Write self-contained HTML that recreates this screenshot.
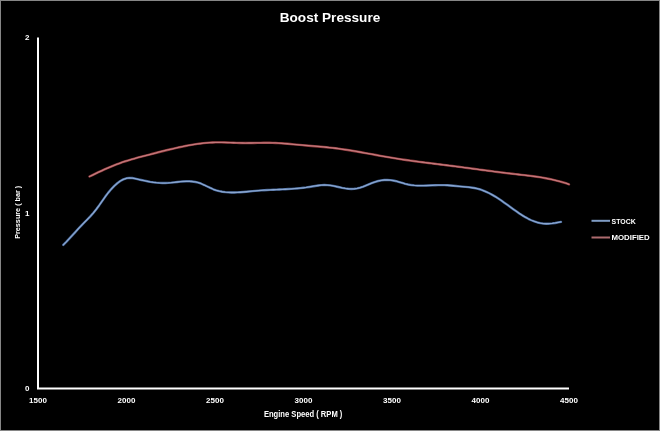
<!DOCTYPE html>
<html><head><meta charset="utf-8">
<style>
html,body{margin:0;padding:0;background:#000;}
body{width:660px;height:431px;overflow:hidden;}
svg{display:block;will-change:transform;}
text{font-family:"Liberation Sans",sans-serif;fill:#fff;}
</style></head>
<body>
<svg width="660" height="431" viewBox="0 0 660 431">
<rect x="0" y="0" width="660" height="431" fill="#000"/>
<rect x="0.5" y="0.5" width="659" height="430" fill="none" stroke="#868686" stroke-width="1"/>
<text x="330" y="21.8" font-size="13.4" font-weight="bold" text-anchor="middle" textLength="100.5" lengthAdjust="spacingAndGlyphs">Boost Pressure</text>
<rect x="37" y="37.5" width="2" height="351.5" fill="#fff"/>
<rect x="37" y="387.5" width="532" height="2" fill="#fff"/>
<g font-size="8" font-weight="bold" text-anchor="end">
<text x="29.5" y="40.3">2</text>
<text x="29.5" y="216">1</text>
<text x="29.5" y="391">0</text>
</g>
<g font-size="8" font-weight="bold" text-anchor="middle">
<text x="38" y="403.4">1500</text>
<text x="126.5" y="403.4">2000</text>
<text x="215" y="403.4">2500</text>
<text x="303.5" y="403.4">3000</text>
<text x="392" y="403.4">3500</text>
<text x="480.5" y="403.4">4000</text>
<text x="569" y="403.4">4500</text>
</g>
<text x="263.9" y="417" font-size="8.2" font-weight="bold" textLength="78.5" lengthAdjust="spacingAndGlyphs">Engine Speed ( RPM )</text>
<text transform="translate(20.1 238.8) rotate(-90)" x="0" y="0" font-size="7.7" font-weight="bold" textLength="53" lengthAdjust="spacingAndGlyphs">Pressure ( bar )</text>
<path d="M63.30 244.90 L66.30 241.86 L69.30 238.67 L72.30 235.39 L75.30 232.08 L78.30 228.79 L81.30 225.58 L84.30 222.50 L87.30 219.48 L90.30 216.35 L93.30 212.98 L96.30 209.25 L99.30 205.18 L102.30 200.87 L105.30 196.58 L108.30 192.63 L111.30 189.07 L114.30 185.94 L117.30 183.24 L120.30 181.02 L123.30 179.35 L126.30 178.28 L129.30 177.86 L132.30 178.05 L135.30 178.62 L138.30 179.32 L141.30 180.01 L144.30 180.66 L147.30 181.27 L150.30 181.82 L153.30 182.28 L156.30 182.65 L159.30 182.91 L162.30 183.04 L165.30 183.04 L168.30 182.89 L171.30 182.64 L174.30 182.32 L177.30 181.99 L180.30 181.68 L183.30 181.43 L186.30 181.30 L189.30 181.31 L192.30 181.52 L195.30 181.97 L198.30 182.69 L201.30 183.73 L204.30 185.04 L207.30 186.49 L210.30 187.94 L213.30 189.27 L216.30 190.34 L219.30 191.15 L222.30 191.74 L225.30 192.13 L228.30 192.37 L231.30 192.48 L234.30 192.48 L237.30 192.39 L240.30 192.23 L243.30 192.01 L246.30 191.75 L249.30 191.47 L252.30 191.18 L255.30 190.89 L258.30 190.64 L261.30 190.41 L264.30 190.22 L267.30 190.05 L270.30 189.90 L273.30 189.77 L276.30 189.64 L279.30 189.51 L282.30 189.38 L285.30 189.23 L288.30 189.07 L291.30 188.89 L294.30 188.67 L297.30 188.43 L300.30 188.14 L303.30 187.81 L306.30 187.43 L309.30 186.98 L312.30 186.48 L315.30 185.97 L318.30 185.50 L321.30 185.15 L324.30 185.00 L327.30 185.09 L330.30 185.43 L333.30 185.94 L336.30 186.55 L339.30 187.21 L342.30 187.84 L345.30 188.38 L348.30 188.76 L351.30 188.93 L354.30 188.80 L357.30 188.33 L360.30 187.54 L363.30 186.53 L366.30 185.36 L369.30 184.14 L372.30 182.94 L375.30 181.86 L378.30 180.98 L381.30 180.36 L384.30 180.00 L387.30 179.91 L390.30 180.09 L393.30 180.54 L396.30 181.22 L399.30 182.07 L402.30 182.96 L405.30 183.82 L408.30 184.54 L411.30 185.06 L414.30 185.40 L417.30 185.58 L420.30 185.64 L423.30 185.62 L426.30 185.55 L429.30 185.43 L432.30 185.31 L435.30 185.20 L438.30 185.11 L441.30 185.08 L444.30 185.12 L447.30 185.26 L450.30 185.48 L453.30 185.76 L456.30 186.06 L459.30 186.35 L462.30 186.62 L465.30 186.88 L468.30 187.17 L471.30 187.54 L474.30 188.01 L477.30 188.65 L480.30 189.49 L483.30 190.55 L486.30 191.80 L489.30 193.24 L492.30 194.85 L495.30 196.61 L498.30 198.52 L501.30 200.54 L504.30 202.66 L507.30 204.83 L510.30 207.02 L513.30 209.20 L516.30 211.34 L519.30 213.40 L522.30 215.35 L525.30 217.16 L528.30 218.80 L531.30 220.25 L534.30 221.47 L537.30 222.46 L540.30 223.18 L543.30 223.62 L546.30 223.77 L549.30 223.68 L552.30 223.40 L555.30 222.96 L558.30 222.42 L561.00 221.88" fill="none" stroke="#3f5f90" stroke-width="2.4" stroke-linecap="round" stroke-linejoin="round"/>
<path d="M63.30 244.90 L66.30 241.86 L69.30 238.67 L72.30 235.39 L75.30 232.08 L78.30 228.79 L81.30 225.58 L84.30 222.50 L87.30 219.48 L90.30 216.35 L93.30 212.98 L96.30 209.25 L99.30 205.18 L102.30 200.87 L105.30 196.58 L108.30 192.63 L111.30 189.07 L114.30 185.94 L117.30 183.24 L120.30 181.02 L123.30 179.35 L126.30 178.28 L129.30 177.86 L132.30 178.05 L135.30 178.62 L138.30 179.32 L141.30 180.01 L144.30 180.66 L147.30 181.27 L150.30 181.82 L153.30 182.28 L156.30 182.65 L159.30 182.91 L162.30 183.04 L165.30 183.04 L168.30 182.89 L171.30 182.64 L174.30 182.32 L177.30 181.99 L180.30 181.68 L183.30 181.43 L186.30 181.30 L189.30 181.31 L192.30 181.52 L195.30 181.97 L198.30 182.69 L201.30 183.73 L204.30 185.04 L207.30 186.49 L210.30 187.94 L213.30 189.27 L216.30 190.34 L219.30 191.15 L222.30 191.74 L225.30 192.13 L228.30 192.37 L231.30 192.48 L234.30 192.48 L237.30 192.39 L240.30 192.23 L243.30 192.01 L246.30 191.75 L249.30 191.47 L252.30 191.18 L255.30 190.89 L258.30 190.64 L261.30 190.41 L264.30 190.22 L267.30 190.05 L270.30 189.90 L273.30 189.77 L276.30 189.64 L279.30 189.51 L282.30 189.38 L285.30 189.23 L288.30 189.07 L291.30 188.89 L294.30 188.67 L297.30 188.43 L300.30 188.14 L303.30 187.81 L306.30 187.43 L309.30 186.98 L312.30 186.48 L315.30 185.97 L318.30 185.50 L321.30 185.15 L324.30 185.00 L327.30 185.09 L330.30 185.43 L333.30 185.94 L336.30 186.55 L339.30 187.21 L342.30 187.84 L345.30 188.38 L348.30 188.76 L351.30 188.93 L354.30 188.80 L357.30 188.33 L360.30 187.54 L363.30 186.53 L366.30 185.36 L369.30 184.14 L372.30 182.94 L375.30 181.86 L378.30 180.98 L381.30 180.36 L384.30 180.00 L387.30 179.91 L390.30 180.09 L393.30 180.54 L396.30 181.22 L399.30 182.07 L402.30 182.96 L405.30 183.82 L408.30 184.54 L411.30 185.06 L414.30 185.40 L417.30 185.58 L420.30 185.64 L423.30 185.62 L426.30 185.55 L429.30 185.43 L432.30 185.31 L435.30 185.20 L438.30 185.11 L441.30 185.08 L444.30 185.12 L447.30 185.26 L450.30 185.48 L453.30 185.76 L456.30 186.06 L459.30 186.35 L462.30 186.62 L465.30 186.88 L468.30 187.17 L471.30 187.54 L474.30 188.01 L477.30 188.65 L480.30 189.49 L483.30 190.55 L486.30 191.80 L489.30 193.24 L492.30 194.85 L495.30 196.61 L498.30 198.52 L501.30 200.54 L504.30 202.66 L507.30 204.83 L510.30 207.02 L513.30 209.20 L516.30 211.34 L519.30 213.40 L522.30 215.35 L525.30 217.16 L528.30 218.80 L531.30 220.25 L534.30 221.47 L537.30 222.46 L540.30 223.18 L543.30 223.62 L546.30 223.77 L549.30 223.68 L552.30 223.40 L555.30 222.96 L558.30 222.42 L561.00 221.88" fill="none" stroke="#8aa6cf" stroke-width="1.3" stroke-linecap="round" stroke-linejoin="round"/>
<path d="M89.50 176.50 L92.50 175.07 L95.50 173.63 L98.50 172.20 L101.50 170.79 L104.50 169.42 L107.50 168.08 L110.50 166.78 L113.50 165.55 L116.50 164.38 L119.50 163.27 L122.50 162.23 L125.50 161.24 L128.50 160.30 L131.50 159.40 L134.50 158.54 L137.50 157.71 L140.50 156.91 L143.50 156.11 L146.50 155.33 L149.50 154.56 L152.50 153.78 L155.50 153.01 L158.50 152.24 L161.50 151.48 L164.50 150.73 L167.50 149.99 L170.50 149.27 L173.50 148.56 L176.50 147.88 L179.50 147.22 L182.50 146.58 L185.50 145.98 L188.50 145.41 L191.50 144.87 L194.50 144.38 L197.50 143.93 L200.50 143.53 L203.50 143.18 L206.50 142.89 L209.50 142.66 L212.50 142.50 L215.50 142.41 L218.50 142.38 L221.50 142.40 L224.50 142.47 L227.50 142.55 L230.50 142.66 L233.50 142.77 L236.50 142.87 L239.50 142.96 L242.50 143.02 L245.50 143.04 L248.50 143.02 L251.50 142.99 L254.50 142.94 L257.50 142.88 L260.50 142.83 L263.50 142.80 L266.50 142.78 L269.50 142.80 L272.50 142.86 L275.50 142.97 L278.50 143.12 L281.50 143.31 L284.50 143.53 L287.50 143.77 L290.50 144.04 L293.50 144.32 L296.50 144.60 L299.50 144.88 L302.50 145.16 L305.50 145.43 L308.50 145.68 L311.50 145.93 L314.50 146.18 L317.50 146.43 L320.50 146.69 L323.50 146.97 L326.50 147.26 L329.50 147.57 L332.50 147.90 L335.50 148.27 L338.50 148.66 L341.50 149.08 L344.50 149.52 L347.50 149.98 L350.50 150.47 L353.50 150.97 L356.50 151.48 L359.50 152.00 L362.50 152.54 L365.50 153.08 L368.50 153.63 L371.50 154.18 L374.50 154.73 L377.50 155.28 L380.50 155.82 L383.50 156.36 L386.50 156.89 L389.50 157.41 L392.50 157.91 L395.50 158.40 L398.50 158.87 L401.50 159.33 L404.50 159.78 L407.50 160.21 L410.50 160.64 L413.50 161.05 L416.50 161.45 L419.50 161.85 L422.50 162.24 L425.50 162.63 L428.50 163.01 L431.50 163.38 L434.50 163.76 L437.50 164.13 L440.50 164.50 L443.50 164.88 L446.50 165.25 L449.50 165.63 L452.50 166.01 L455.50 166.40 L458.50 166.79 L461.50 167.18 L464.50 167.58 L467.50 167.98 L470.50 168.38 L473.50 168.78 L476.50 169.18 L479.50 169.59 L482.50 169.99 L485.50 170.39 L488.50 170.78 L491.50 171.18 L494.50 171.57 L497.50 171.95 L500.50 172.33 L503.50 172.71 L506.50 173.08 L509.50 173.44 L512.50 173.79 L515.50 174.14 L518.50 174.48 L521.50 174.82 L524.50 175.17 L527.50 175.53 L530.50 175.91 L533.50 176.31 L536.50 176.73 L539.50 177.18 L542.50 177.67 L545.50 178.20 L548.50 178.77 L551.50 179.40 L554.50 180.08 L557.50 180.82 L560.50 181.62 L563.50 182.50 L566.50 183.45 L569.00 184.30" fill="none" stroke="#8a3638" stroke-width="2.4" stroke-linecap="round" stroke-linejoin="round"/>
<path d="M89.50 176.50 L92.50 175.07 L95.50 173.63 L98.50 172.20 L101.50 170.79 L104.50 169.42 L107.50 168.08 L110.50 166.78 L113.50 165.55 L116.50 164.38 L119.50 163.27 L122.50 162.23 L125.50 161.24 L128.50 160.30 L131.50 159.40 L134.50 158.54 L137.50 157.71 L140.50 156.91 L143.50 156.11 L146.50 155.33 L149.50 154.56 L152.50 153.78 L155.50 153.01 L158.50 152.24 L161.50 151.48 L164.50 150.73 L167.50 149.99 L170.50 149.27 L173.50 148.56 L176.50 147.88 L179.50 147.22 L182.50 146.58 L185.50 145.98 L188.50 145.41 L191.50 144.87 L194.50 144.38 L197.50 143.93 L200.50 143.53 L203.50 143.18 L206.50 142.89 L209.50 142.66 L212.50 142.50 L215.50 142.41 L218.50 142.38 L221.50 142.40 L224.50 142.47 L227.50 142.55 L230.50 142.66 L233.50 142.77 L236.50 142.87 L239.50 142.96 L242.50 143.02 L245.50 143.04 L248.50 143.02 L251.50 142.99 L254.50 142.94 L257.50 142.88 L260.50 142.83 L263.50 142.80 L266.50 142.78 L269.50 142.80 L272.50 142.86 L275.50 142.97 L278.50 143.12 L281.50 143.31 L284.50 143.53 L287.50 143.77 L290.50 144.04 L293.50 144.32 L296.50 144.60 L299.50 144.88 L302.50 145.16 L305.50 145.43 L308.50 145.68 L311.50 145.93 L314.50 146.18 L317.50 146.43 L320.50 146.69 L323.50 146.97 L326.50 147.26 L329.50 147.57 L332.50 147.90 L335.50 148.27 L338.50 148.66 L341.50 149.08 L344.50 149.52 L347.50 149.98 L350.50 150.47 L353.50 150.97 L356.50 151.48 L359.50 152.00 L362.50 152.54 L365.50 153.08 L368.50 153.63 L371.50 154.18 L374.50 154.73 L377.50 155.28 L380.50 155.82 L383.50 156.36 L386.50 156.89 L389.50 157.41 L392.50 157.91 L395.50 158.40 L398.50 158.87 L401.50 159.33 L404.50 159.78 L407.50 160.21 L410.50 160.64 L413.50 161.05 L416.50 161.45 L419.50 161.85 L422.50 162.24 L425.50 162.63 L428.50 163.01 L431.50 163.38 L434.50 163.76 L437.50 164.13 L440.50 164.50 L443.50 164.88 L446.50 165.25 L449.50 165.63 L452.50 166.01 L455.50 166.40 L458.50 166.79 L461.50 167.18 L464.50 167.58 L467.50 167.98 L470.50 168.38 L473.50 168.78 L476.50 169.18 L479.50 169.59 L482.50 169.99 L485.50 170.39 L488.50 170.78 L491.50 171.18 L494.50 171.57 L497.50 171.95 L500.50 172.33 L503.50 172.71 L506.50 173.08 L509.50 173.44 L512.50 173.79 L515.50 174.14 L518.50 174.48 L521.50 174.82 L524.50 175.17 L527.50 175.53 L530.50 175.91 L533.50 176.31 L536.50 176.73 L539.50 177.18 L542.50 177.67 L545.50 178.20 L548.50 178.77 L551.50 179.40 L554.50 180.08 L557.50 180.82 L560.50 181.62 L563.50 182.50 L566.50 183.45 L569.00 184.30" fill="none" stroke="#c2797c" stroke-width="1.3" stroke-linecap="round" stroke-linejoin="round"/>
<rect x="591.5" y="219.8" width="18.5" height="2" fill="#7F9CC4"/>
<rect x="591.5" y="236.5" width="18.5" height="2" fill="#AD6B6E"/>
<text x="611.5" y="223.8" font-size="8" font-weight="bold" textLength="24.2" lengthAdjust="spacingAndGlyphs">STOCK</text>
<text x="611.5" y="239.9" font-size="8" font-weight="bold" textLength="38.2" lengthAdjust="spacingAndGlyphs">MODIFIED</text>
</svg>
</body></html>
